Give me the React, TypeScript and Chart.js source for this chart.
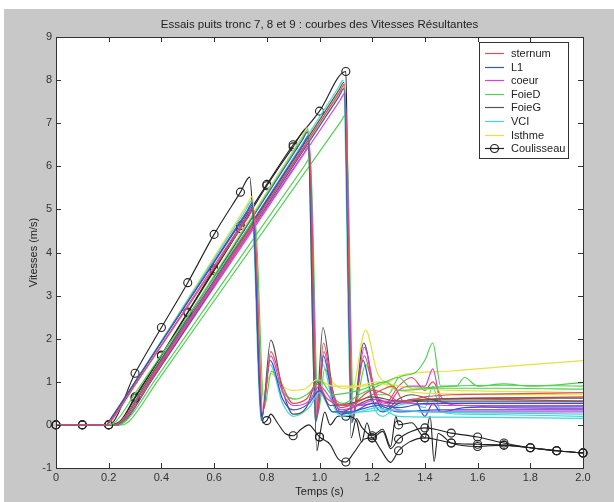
import React, { useEffect, useRef } from "react";
import { Chart, registerables } from "chart.js";
Chart.register(...registerables);

type P = [number, number];

const TITLE = "Essais puits tronc 7, 8 et 9 : courbes des Vitesses Résultantes";
const X_LABEL = "Temps (s)";
const Y_LABEL = "Vitesses (m/s)";
const X_TICKS = [0, 0.2, 0.4, 0.6, 0.8, 1, 1.2, 1.4, 1.6, 1.8, 2];
const Y_TICKS = [-1, 0, 1, 2, 3, 4, 5, 6, 7, 8, 9];
const SERIES_NAMES = ["sternum", "L1", "coeur", "FoieD", "FoieG", "VCI", "Isthme", "Coulisseau"];
const SERIES_COLORS = ["#e05050", "#3a50d0", "#d840d8", "#50d050", "#555555", "#40d8d8", "#e8e040", "#222222"];

// ---- Essai 7 ----
const sternum7: P[] = [[0,0],[0.19,0],[0.21,0.12],[0.3,0.93],[0.73,4.82],[0.75,5.0],[0.785,0.3],[0.815,1.7],[0.86,0.9],[0.9,0.5],[0.95,0.6],[0.99,0.95],[1.03,0.6],[1.1,0.45],[1.2,0.7],[1.28,0.9],[1.32,0.55],[1.4,0.65],[1.5,0.7],[1.7,0.72],[2,0.75]];
const L1_7: P[] = [[0,0],[0.19,0],[0.21,0.15],[0.3,0.99],[0.725,4.96],[0.745,5.15],[0.78,0.15],[0.812,1.5],[0.86,0.6],[0.9,0.35],[0.96,0.5],[1.0,0.8],[1.05,0.3],[1.12,0.3],[1.2,0.5],[1.3,0.4],[1.4,0.5],[1.6,0.5],[2,0.5]];
const coeur7: P[] = [[0,0],[0.19,0],[0.21,0.1],[0.3,0.93],[0.728,4.87],[0.748,5.05],[0.783,0.25],[0.815,1.6],[0.86,0.75],[0.9,0.45],[0.96,0.55],[1.0,0.9],[1.06,0.5],[1.15,0.45],[1.25,0.55],[1.35,0.5],[1.5,0.45],[2,0.45]];
const FoieD7: P[] = [[0,0],[0.2,0],[0.23,0.1],[0.3,0.73],[0.735,4.62],[0.755,4.8],[0.79,0.4],[0.818,1.25],[0.87,0.7],[0.91,0.6],[0.97,0.8],[1.0,1.05],[1.05,0.7],[1.15,0.8],[1.25,1.0],[1.3,0.8],[1.45,0.85],[1.7,0.85],[2,0.83]];
const FoieG7: P[] = [[0,0],[0.19,0],[0.21,0.17],[0.3,1.0],[0.725,4.92],[0.745,5.1],[0.78,0.1],[0.815,1.97],[0.86,0.8],[0.9,0.25],[0.95,0.4],[0.99,1.0],[1.04,0.45],[1.12,0.5],[1.2,0.65],[1.3,0.55],[1.45,0.6],[1.7,0.62],[2,0.62]];
const VCI7: P[] = [[0,0],[0.19,0],[0.21,0.15],[0.3,1.0],[0.722,5.01],[0.742,5.2],[0.778,0.1],[0.812,1.4],[0.86,0.5],[0.9,0.2],[0.96,0.4],[1.0,0.75],[1.05,0.3],[1.15,0.3],[1.25,0.35],[1.4,0.3],[1.6,0.28],[2,0.25]];
const Isthme7: P[] = [[0,0],[0.19,0],[0.21,0.1],[0.3,0.97],[0.725,5.11],[0.745,5.3],[0.785,0.7],[0.815,1.2],[0.86,0.9],[0.9,0.8],[0.95,0.85],[0.99,1.05],[1.05,0.9],[1.15,0.9],[1.25,0.95],[1.35,0.85],[1.5,0.8],[1.7,0.78],[2,0.75]];
const Coulisseau7: P[] = [[0,0],[0.1,0],[0.2,0],[0.3,1.2],[0.4,2.26],[0.5,3.3],[0.6,4.42],[0.7,5.4],[0.735,5.75],[0.75,4.5],[0.785,0.05],[0.8,0.1],[0.815,0.25],[0.84,0.05],[0.87,-0.2],[0.9,-0.25],[0.93,-0.1],[0.96,0.0],[0.98,-0.12],[1.0,-0.28],[1.04,-0.45],[1.07,-0.78],[1.1,-0.86],[1.13,-0.65],[1.17,-0.33],[1.2,-0.3],[1.23,-0.55],[1.27,-0.87],[1.3,-0.6],[1.34,-0.4],[1.4,-0.3],[1.45,-0.35],[1.5,-0.42],[1.6,-0.45],[1.7,-0.47],[1.8,-0.53],[1.9,-0.6],[2,-0.65]];

// ---- Essai 8 ----
const sternum8: P[] = [[0,0],[0.22,0],[0.25,0.1],[0.35,1.02],[0.94,6.42],[0.96,6.6],[0.99,0.2],[1.015,1.9],[1.05,0.8],[1.08,0.4],[1.13,0.5],[1.2,0.8],[1.26,0.7],[1.3,0.55],[1.4,0.6],[1.6,0.62],[2,0.65]];
const L1_8: P[] = [[0,0],[0.22,0],[0.25,0.08],[0.35,1.02],[0.938,6.51],[0.958,6.7],[0.988,0.1],[1.015,1.6],[1.05,0.6],[1.08,0.25],[1.15,0.35],[1.22,0.45],[1.3,0.3],[1.45,0.35],[1.7,0.35],[2,0.35]];
const coeur8: P[] = [[0,0],[0.22,0],[0.25,0.1],[0.35,1.0],[0.942,6.32],[0.962,6.5],[0.992,0.2],[1.017,1.7],[1.05,0.7],[1.08,0.35],[1.15,0.45],[1.22,0.6],[1.3,0.35],[1.45,0.3],[1.7,0.3],[2,0.3]];
const FoieD8: P[] = [[0,0],[0.23,0],[0.27,0.12],[0.37,0.99],[0.945,6.03],[0.965,6.2],[0.995,0.3],[1.02,1.3],[1.06,0.6],[1.09,0.5],[1.15,0.7],[1.22,0.9],[1.3,1.1],[1.35,0.85],[1.5,0.9],[1.7,0.92],[2,0.9]];
const FoieG8: P[] = [[0,0],[0.22,0],[0.25,0.1],[0.35,1.05],[0.935,6.61],[0.955,6.8],[0.985,0.05],[1.013,2.26],[1.05,0.8],[1.08,0.3],[1.14,0.45],[1.2,0.6],[1.28,0.5],[1.4,0.55],[1.7,0.55],[2,0.55]];
const VCI8: P[] = [[0,0],[0.22,0],[0.25,0.1],[0.35,1.06],[0.935,6.66],[0.955,6.85],[0.985,0.05],[1.013,1.4],[1.05,0.5],[1.08,0.2],[1.15,0.3],[1.22,0.4],[1.3,0.2],[1.5,0.18],[2,0.15]];
const Isthme8: P[] = [[0,0],[0.22,0],[0.25,0.1],[0.35,1.06],[0.935,6.71],[0.955,6.9],[0.99,0.6],[1.015,1.5],[1.05,1.0],[1.09,0.85],[1.15,0.9],[1.22,1.0],[1.3,0.8],[1.5,0.72],[2,0.7]];
const Coulisseau8: P[] = [[0,0],[0.1,0],[0.2,0],[0.24,0.05],[0.3,0.62],[0.4,1.6],[0.5,2.6],[0.6,3.58],[0.7,4.55],[0.8,5.55],[0.9,6.45],[0.955,6.9],[0.965,5.5],[0.99,-0.6],[1.0,-0.28],[1.02,0.3],[1.04,0.0],[1.07,0.2],[1.1,0.2],[1.14,0.1],[1.16,-0.4],[1.18,0.05],[1.2,-0.3],[1.24,-0.15],[1.27,-0.55],[1.3,-0.33],[1.35,-0.15],[1.4,-0.07],[1.5,-0.19],[1.6,-0.28],[1.7,-0.42],[1.8,-0.53],[1.9,-0.6],[2,-0.65]];

// ---- Essai 9 ----
const sternum9: P[] = [[0,0],[0.23,0],[0.26,0.1],[0.36,1.03],[1.075,7.71],[1.095,7.9],[1.125,0.2],[1.17,1.6],[1.21,0.7],[1.25,0.5],[1.3,0.9],[1.35,1.1],[1.4,0.8],[1.43,1.0],[1.47,0.6],[1.6,0.6],[2,0.55]];
const L1_9: P[] = [[0,0],[0.23,0],[0.26,0.08],[0.36,1.01],[1.073,7.61],[1.093,7.8],[1.123,0.1],[1.165,1.5],[1.2,0.6],[1.24,0.3],[1.3,0.5],[1.36,0.6],[1.4,0.2],[1.43,0.5],[1.46,0.3],[1.55,0.4],[1.7,0.42],[2,0.42]];
const coeur9: P[] = [[0,0],[0.23,0],[0.26,0.1],[0.36,1.01],[1.077,7.52],[1.097,7.7],[1.127,0.2],[1.17,1.8],[1.21,0.8],[1.25,0.4],[1.3,0.8],[1.35,0.9],[1.4,0.9],[1.43,1.3],[1.46,0.55],[1.55,0.45],[1.7,0.4],[2,0.38]];
const FoieD9: P[] = [[0,0],[0.25,0],[0.28,0.1],[0.38,0.97],[1.08,7.03],[1.1,7.2],[1.13,0.3],[1.175,1.4],[1.22,0.7],[1.26,0.7],[1.3,1.1],[1.36,1.2],[1.4,1.5],[1.43,1.9],[1.46,0.9],[1.52,0.9],[1.55,1.1],[1.6,0.9],[1.7,0.95],[1.8,0.9],[2,0.98]];
const FoieG9: P[] = [[0,0],[0.23,0],[0.26,0.1],[0.36,1.04],[1.073,7.76],[1.093,7.95],[1.123,0.05],[1.168,1.9],[1.21,0.7],[1.25,0.35],[1.3,0.6],[1.35,0.7],[1.42,0.6],[1.5,0.5],[2,0.5]];
const VCI9: P[] = [[0,0],[0.23,0],[0.26,0.1],[0.36,1.05],[1.07,7.81],[1.09,8.0],[1.12,0.05],[1.165,1.5],[1.2,0.5],[1.24,0.2],[1.3,0.45],[1.35,0.5],[1.4,0.4],[1.43,0.9],[1.46,0.3],[1.55,0.25],[2,0.2]];
const Isthme9: P[] = [[0,0],[0.23,0],[0.26,0.1],[0.36,1.03],[1.073,7.66],[1.093,7.85],[1.12,0.7],[1.175,2.2],[1.22,1.2],[1.26,1.0],[1.3,1.14],[1.5,1.25],[1.7,1.35],[2,1.49]];
const Coulisseau9: P[] = [[0,0],[0.1,0],[0.2,0],[0.245,0.1],[0.3,0.65],[0.4,1.62],[0.5,2.62],[0.6,3.62],[0.7,4.62],[0.8,5.58],[0.9,6.5],[1.0,7.28],[1.1,8.2],[1.105,6.5],[1.12,-0.3],[1.14,0.15],[1.16,-0.05],[1.2,-0.25],[1.24,-0.1],[1.27,-0.5],[1.29,0.2],[1.3,0.0],[1.35,0.05],[1.4,-0.3],[1.42,0.2],[1.435,-0.85],[1.45,-0.2],[1.5,-0.42],[1.6,-0.5],[1.7,-0.47],[1.8,-0.53],[1.9,-0.6],[2,-0.65]];

const TESTS: P[][][] = [
  [sternum7, L1_7, coeur7, FoieD7, FoieG7, VCI7, Isthme7, Coulisseau7],
  [sternum8, L1_8, coeur8, FoieD8, FoieG8, VCI8, Isthme8, Coulisseau8],
  [sternum9, L1_9, coeur9, FoieD9, FoieG9, VCI9, Isthme9, Coulisseau9],
];

const FONT = "'Liberation Sans', Arial, Helvetica, sans-serif";
const isMarkerTime = (t: number) => Math.abs(t * 10 - Math.round(t * 10)) < 1e-6;

const matlabPlugin = {
  id: "matlabLook",
  beforeDraw(chart: any) {
    const { ctx, chartArea: a } = chart;
    ctx.save();
    ctx.fillStyle = "#ffffff";
    ctx.fillRect(0, 0, chart.width, chart.height);
    ctx.fillStyle = "#c8c8c8";
    ctx.fillRect(4, 9, chart.width - 4, chart.height - 9);
    ctx.fillStyle = "#ffffff";
    ctx.fillRect(a.left, a.top, a.right - a.left, a.bottom - a.top);
    ctx.restore();
  },
  afterDatasetsDraw(chart: any) {
    const { ctx, chartArea: a, scales } = chart;
    const xs = scales.x, ys = scales.y;
    ctx.save();
    ctx.strokeStyle = "#333333";
    ctx.lineWidth = 1;
    ctx.strokeRect(Math.round(a.left) + 0.5, Math.round(a.top) + 0.5, Math.round(a.right - a.left), Math.round(a.bottom - a.top));
    const tl = 5;
    ctx.beginPath();
    X_TICKS.forEach((t) => {
      const px = Math.round(xs.getPixelForValue(t)) + 0.5;
      ctx.moveTo(px, a.bottom);
      ctx.lineTo(px, a.bottom - tl);
      ctx.moveTo(px, a.top);
      ctx.lineTo(px, a.top + tl);
    });
    Y_TICKS.forEach((v) => {
      const py = Math.round(ys.getPixelForValue(v)) + 0.5;
      ctx.moveTo(a.left, py);
      ctx.lineTo(a.left + tl, py);
      ctx.moveTo(a.right, py);
      ctx.lineTo(a.right - tl, py);
    });
    ctx.stroke();

    // texts
    ctx.fillStyle = "#222222";
    ctx.textAlign = "center";
    ctx.textBaseline = "middle";
    const cx = (a.left + a.right) / 2;
    ctx.font = `11.5px ${FONT}`;
    ctx.fillText(TITLE, cx, 25);
    ctx.font = `11px ${FONT}`;
    ctx.fillText(X_LABEL, cx, 492);
    ctx.save();
    ctx.translate(34, (a.top + a.bottom) / 2);
    ctx.rotate(-Math.PI / 2);
    ctx.fillText(Y_LABEL, 0, 0);
    ctx.restore();

    // legend
    const lx = 479.5, ly = 42.5, lw = 89, lh = 116;
    ctx.fillStyle = "#ffffff";
    ctx.fillRect(lx, ly, lw, lh);
    ctx.strokeStyle = "#333333";
    ctx.strokeRect(lx, ly, lw, lh);
    SERIES_NAMES.forEach((name, i) => {
      const y = Math.round(53 + i * 13.6) + 0.5;
      ctx.strokeStyle = SERIES_COLORS[i];
      ctx.lineWidth = 1.2;
      ctx.beginPath();
      ctx.moveTo(485, y);
      ctx.lineTo(504, y);
      ctx.stroke();
      if (i === SERIES_NAMES.length - 1) {
        ctx.beginPath();
        ctx.arc(494.5, y, 4, 0, Math.PI * 2);
        ctx.stroke();
      }
      ctx.fillStyle = "#222222";
      ctx.textAlign = "left";
      ctx.fillText(name, 511, y);
    });
    ctx.restore();
  },
};

export default function App() {
  const ref = useRef<HTMLCanvasElement | null>(null);
  useEffect(() => {
    if (!ref.current) return;
    const datasets: any[] = [];
    TESTS.forEach((series, ti) => {
      series.forEach((pts, si) => {
        const isC = si === SERIES_NAMES.length - 1;
        datasets.push({
          label: `${SERIES_NAMES[si]} ${7 + ti}`,
          data: pts.map(([x, y]) => ({ x, y })),
          borderColor: SERIES_COLORS[si],
          backgroundColor: "rgba(0,0,0,0)",
          borderWidth: isC ? 1.1 : 1.2,
          cubicInterpolationMode: "monotone",
          pointRadius: isC ? (c: any) => (c.raw && isMarkerTime(c.raw.x) ? 4 : 0) : 0,
          pointBorderColor: SERIES_COLORS[si],
          pointBackgroundColor: "rgba(0,0,0,0)",
          pointBorderWidth: 1.1,
          clip: isC ? false : undefined,
        });
      });
    });
    Chart.defaults.font.family = FONT;
    Chart.defaults.font.size = 11;
    Chart.defaults.color = "#333333";
    const chart = new Chart(ref.current, {
      type: "line",
      data: { datasets },
      options: {
        responsive: false,
        animation: false,
        devicePixelRatio: 1,
        layout: { padding: { top: 37, right: 31, left: 0, bottom: 0 } },
        plugins: { legend: { display: false }, title: { display: false }, tooltip: { enabled: false } },
        events: [],
        scales: {
          x: {
            type: "linear",
            min: 0,
            max: 2,
            grid: { display: false, drawTicks: false, tickLength: 0 },
            border: { display: false },
            afterBuildTicks: (s: any) => { s.ticks = X_TICKS.map((v) => ({ value: v })); },
            ticks: { padding: 3, maxRotation: 0, autoSkip: false, color: "#333333" },
            afterFit: (s: any) => { s.height = 34; },
          },
          y: {
            type: "linear",
            min: -1,
            max: 9,
            grid: { display: false, drawTicks: false, tickLength: 0 },
            border: { display: false },
            afterBuildTicks: (s: any) => { s.ticks = Y_TICKS.map((v) => ({ value: v })); },
            ticks: { padding: 4, autoSkip: false, color: "#333333" },
            afterFit: (s: any) => { s.width = 56; },
          },
        },
      } as any,
      plugins: [matlabPlugin],
    });
    return () => chart.destroy();
  }, []);
  return (
    <div style={{ position: "absolute", left: 0, top: 0, width: 614, height: 502 }}>
      <canvas ref={ref} width={614} height={502} style={{ display: "block" }} />
    </div>
  );
}
